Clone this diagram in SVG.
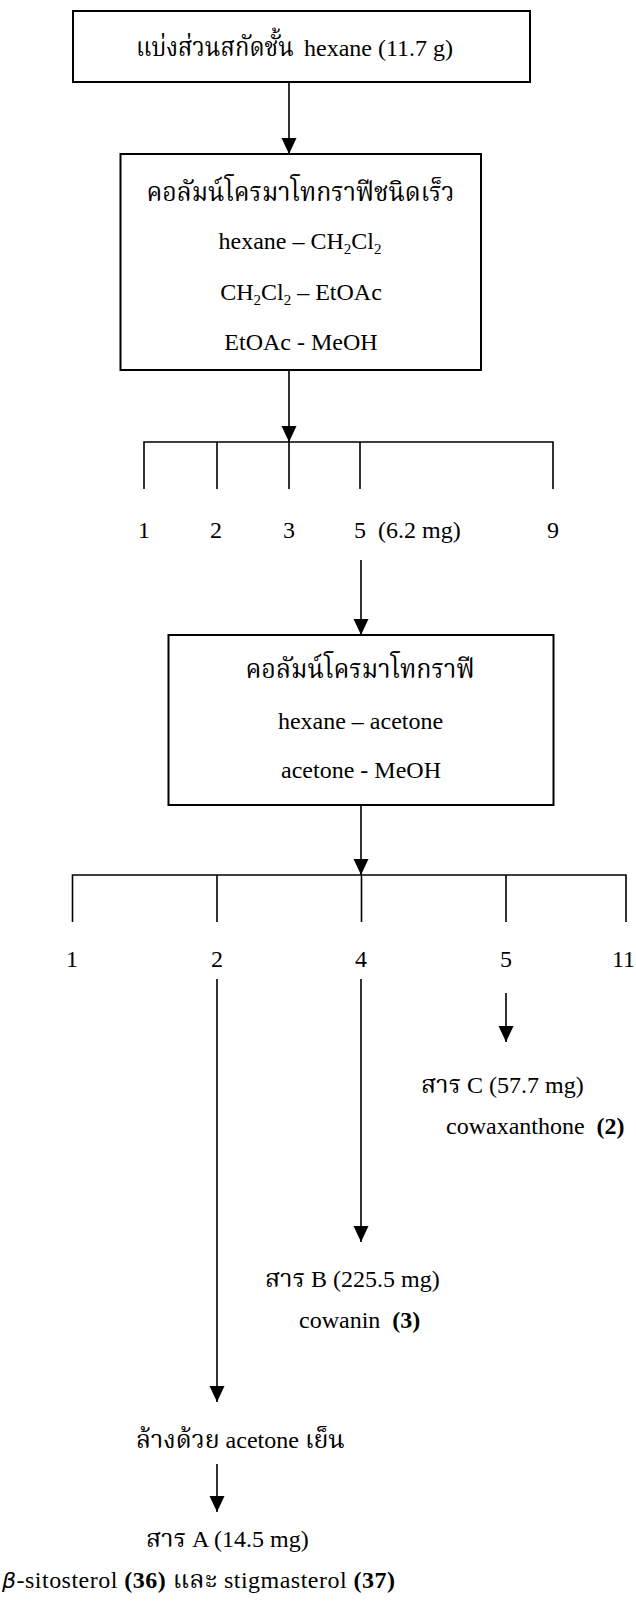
<svg xmlns="http://www.w3.org/2000/svg" width="636" height="1602" viewBox="0 0 636 1602">
<style>
text{font-family:"Liberation Serif","Noto Serif Thai","Noto Sans Thai",serif;font-size:24px;fill:#000}
.m{text-anchor:middle}
.th{font-size:25px}
.tt{font-size:27px}
.box{fill:#fff;stroke:#000;stroke-width:2}
.ln{fill:none;stroke:#000;stroke-width:1.6}
.ah{fill:#000}
.sub{font-size:15px}
.b{font-weight:bold}
</style>
<g id="connectors">
<path class="ln" d="M289,82 V154"/>
<path class="ah" d="M281.5,138 L296.5,138 L289,154 Z"/>
<path class="ln" d="M289,370 V442"/>
<path class="ah" d="M281.5,426 L296.5,426 L289,442 Z"/>
<path class="ln" d="M144,489 V442 H553 V489 M217,442 V489 M289,442 V489 M360,442 V489"/>
<path class="ln" d="M361,560 V635"/>
<path class="ah" d="M353.5,619 L368.5,619 L361,635 Z"/>
<path class="ln" d="M361,805 V875"/>
<path class="ah" d="M353.5,859 L368.5,859 L361,875 Z"/>
<path class="ln" d="M72.5,922 V875 H626 V922 M217,875 V922 M361.5,875 V922 M506,875 V922"/>
<path class="ln" d="M506,993 V1042"/>
<path class="ah" d="M498.5,1026 L513.5,1026 L506,1042 Z"/>
<path class="ln" d="M361,979 V1242"/>
<path class="ah" d="M353.5,1226 L368.5,1226 L361,1242 Z"/>
<path class="ln" d="M217,979 V1402"/>
<path class="ah" d="M209.5,1386 L224.5,1386 L217,1402 Z"/>
<path class="ln" d="M217,1464 V1512"/>
<path class="ah" d="M209.5,1496 L224.5,1496 L217,1512 Z"/>
</g>
<g id="box1">
<rect class="box" x="73" y="11" width="457" height="71" stroke="#333"/>
<text class="tt" x="136" y="56" textLength="158" lengthAdjust="spacingAndGlyphs">แบ่งส่วนสกัดชั้น</text>
<text x="304" y="56" font-size="25.5">hexane (11.7 g)</text>
</g>
<g id="box2">
<rect class="box" x="120.5" y="154" width="360.5" height="216"/>
<text class="m tt" x="300.5" y="201" textLength="308" lengthAdjust="spacingAndGlyphs">คอลัมน์โครมาโทกราฟีชนิดเร็ว</text>
<text class="m" x="300" y="249">hexane – CH<tspan class="sub" dy="5">2</tspan><tspan dy="-5">Cl</tspan><tspan class="sub" dy="5">2</tspan></text>
<text class="m" x="301" y="300">CH<tspan class="sub" dy="5">2</tspan><tspan dy="-5">Cl</tspan><tspan class="sub" dy="5">2</tspan><tspan dy="-5"> – EtOAc</tspan></text>
<text class="m" x="301" y="350">EtOAc - MeOH</text>
</g>
<g id="fractions1">
<text class="m" x="144" y="538">1</text>
<text class="m" x="216" y="538">2</text>
<text class="m" x="289" y="538">3</text>
<text x="354" y="538" xml:space="preserve">5  (6.2 mg)</text>
<text class="m" x="553" y="538">9</text>
</g>
<g id="box3">
<rect class="box" x="168.5" y="635" width="385" height="170"/>
<text class="m tt" x="360" y="678" textLength="229" lengthAdjust="spacingAndGlyphs">คอลัมน์โครมาโทกราฟี</text>
<text class="m" x="360.5" y="729">hexane – acetone</text>
<text class="m" x="361" y="778">acetone - MeOH</text>
</g>
<g id="fractions2">
<text class="m" x="72" y="967">1</text>
<text class="m" x="217" y="967">2</text>
<text class="m" x="361" y="967">4</text>
<text class="m" x="506" y="967">5</text>
<text x="612" y="967">11</text>
</g>
<g id="compoundC">
<text x="421" y="1093"><tspan class="th">สาร</tspan> C (57.7 mg)</text>
<text x="446" y="1134" xml:space="preserve">cowaxanthone  <tspan class="b">(2)</tspan></text>
</g>
<g id="compoundB">
<text x="265" y="1287"><tspan class="th">สาร</tspan> B (225.5 mg)</text>
<text x="299" y="1328" xml:space="preserve">cowanin  <tspan class="b">(3)</tspan></text>
</g>
<g id="wash">
<text x="136" y="1448"><tspan class="th">ล้างด้วย</tspan> acetone <tspan class="th">เย็น</tspan></text>
</g>
<g id="compoundA">
<text x="146" y="1547"><tspan class="th">สาร</tspan> A (14.5 mg)</text>
<text x="2" y="1588" textLength="393"><tspan font-family="DejaVu Sans" font-style="italic" font-size="22">β</tspan>-sitosterol <tspan class="b">(36)</tspan> <tspan class="th">และ</tspan> stigmasterol <tspan class="b">(37)</tspan></text>
</g>
</svg>
